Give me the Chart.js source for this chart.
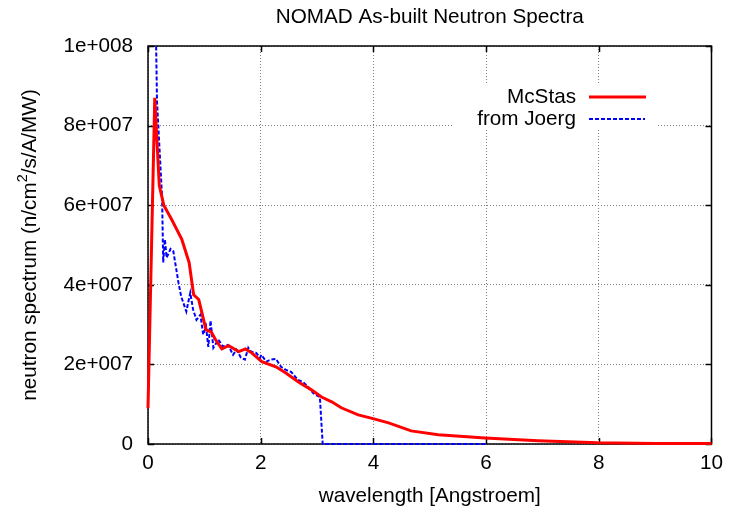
<!DOCTYPE html>
<html>
<head>
<meta charset="utf-8">
<title>NOMAD As-built Neutron Spectra</title>
<script src="https://cdn.jsdelivr.net/npm/chart.js@4"></script>
<style>
  html, body { margin: 0; padding: 0; background: #fff; }
</style>
</head>
<body>
<canvas id="chart" width="730" height="514"></canvas>
<script>
// McStas simulation (red, solid)
const mcX = [0.0, 0.12, 0.2, 0.28, 0.42, 0.6, 0.73, 0.81, 0.9, 1.03, 1.12, 1.2, 1.31, 1.43, 1.61, 1.73, 1.84, 2.02, 2.27, 2.44,
  2.67, 2.9, 3.08, 3.26, 3.43, 3.73, 3.96, 4.27, 4.67, 5.15, 5.98, 6.92, 7.98, 9.0, 10.0];
const mcY = [0.9e7, 8.7e7, 6.5e7, 6.0e7, 5.64e7, 5.14e7, 4.56e7, 3.75e7, 3.63e7, 2.87e7, 2.82e7, 2.62e7, 2.39e7, 2.47e7, 2.32e7, 2.39e7, 2.29e7, 2.07e7, 1.94e7, 1.79e7,
  1.56e7, 1.36e7, 1.18e7, 1.06e7, 0.91e7, 0.73e7, 0.65e7, 0.53e7, 0.33e7, 0.23e7, 0.15e7, 0.08e7, 0.03e7, 0.015e7, 0.01e7];

// from Joerg (blue, dashed)
const jgX = [0.11, 0.16, 0.25, 0.27, 0.30, 0.33, 0.40, 0.45, 0.54, 0.59, 0.68, 0.75, 0.80, 0.86, 0.93, 0.98, 1.03, 1.07, 1.11, 1.16,
  1.25, 1.33, 1.42, 1.51, 1.57, 1.65, 1.72, 1.78, 1.83, 1.92, 1.99, 2.01, 2.10, 2.18, 2.27, 2.36, 2.45, 2.54, 2.66, 2.75,
  2.84, 2.93, 2.98, 3.05, 3.10, 4.0, 5.0, 6.0];
const jgY = [13e7, 8.6e7, 6.2e7, 4.56e7, 5.14e7, 4.68e7, 4.9e7, 4.84e7, 4.06e7, 3.7e7, 3.33e7, 3.8e7, 3.38e7, 3.12e7, 3.25e7, 2.75e7, 2.95e7, 2.44e7, 3.1e7, 2.42e7,
  2.62e7, 2.45e7, 2.49e7, 2.24e7, 2.37e7, 2.17e7, 2.12e7, 2.42e7, 2.32e7, 2.29e7, 2.17e7, 2.24e7, 2.07e7, 2.12e7, 2.14e7, 1.94e7, 1.86e7, 1.81e7, 1.61e7, 1.56e7,
  1.44e7, 1.28e7, 1.23e7, 1.18e7, 0, 0, 0, 0];

const xTicks = [0, 2, 4, 6, 8, 10];
const xTickLabels = ['0', '2', '4', '6', '8', '10'];
const yTicks = [0, 2e7, 4e7, 6e7, 8e7, 1e8];
const yTickLabels = ['0', '2e+007', '4e+007', '6e+007', '8e+007', '1e+008'];

const FONT = 'Liberation Sans, Arial, sans-serif';
const FS = 20.7;

// gnuplot-ish frame: white key box, border, inward ticks, title, labels, key
const gnuFrame = {
  id: 'gnuFrame',
  beforeDatasetsDraw(chart) {
    const ctx = chart.ctx;
    const a = chart.chartArea;
    const xs = chart.scales.x, ys = chart.scales.y;
    ctx.save();
    // key box covers the grid
    ctx.fillStyle = '#fff';
    ctx.fillRect(453, 85, 205, 45);

    // border
    ctx.strokeStyle = '#000';
    ctx.lineWidth = 1.5;
    ctx.strokeRect(a.left, a.top, a.right - a.left, a.bottom - a.top);

    // ticks (inward, mirrored)
    ctx.beginPath();
    xTicks.forEach(v => {
      const px = Math.round(xs.getPixelForValue(v)) + 0.5;
      ctx.moveTo(px, a.bottom); ctx.lineTo(px, a.bottom - 6);
      ctx.moveTo(px, a.top); ctx.lineTo(px, a.top + 6);
    });
    yTicks.forEach(v => {
      const py = Math.round(ys.getPixelForValue(v)) + 0.5;
      ctx.moveTo(a.left, py); ctx.lineTo(a.left + 6, py);
      ctx.moveTo(a.right, py); ctx.lineTo(a.right - 6, py);
    });
    ctx.stroke();
    ctx.restore();
  },
  afterDatasetsDraw(chart) {
    const ctx = chart.ctx;
    const a = chart.chartArea;
    ctx.save();
    ctx.fillStyle = '#000';
    ctx.font = FS + 'px ' + FONT;
    ctx.textBaseline = 'middle';

    // title
    const cx = (a.left + a.right) / 2;
    ctx.textAlign = 'center';
    ctx.fillText('NOMAD As-built Neutron Spectra', cx, 17);

    // x label
    ctx.fillText('wavelength [Angstroem]', cx, 496);

    // y label with superscript
    const p1 = 'neutron spectrum (n/cm', sup = '2', p2 = '/s/A/MW)';
    const w1 = ctx.measureText(p1).width, w2 = ctx.measureText(p2).width;
    ctx.font = (FS * 0.7) + 'px ' + FONT;
    const ws = ctx.measureText(sup).width;
    ctx.save();
    ctx.translate(30, (a.top + a.bottom) / 2);
    ctx.rotate(-Math.PI / 2);
    ctx.textAlign = 'left';
    let sx = -(w1 + ws + w2) / 2;
    ctx.font = FS + 'px ' + FONT;
    ctx.fillText(p1, sx, 0);
    sx += w1;
    ctx.font = (FS * 0.7) + 'px ' + FONT;
    ctx.fillText(sup, sx, -7);
    sx += ws;
    ctx.font = FS + 'px ' + FONT;
    ctx.fillText(p2, sx, 0);
    ctx.restore();

    // key
    ctx.font = FS + 'px ' + FONT;
    ctx.textAlign = 'right';
    ctx.fillText('McStas', 576, 97);
    ctx.fillText('from Joerg', 576, 119);
    ctx.strokeStyle = '#ff0000';
    ctx.lineWidth = 3;
    ctx.beginPath(); ctx.moveTo(589, 97); ctx.lineTo(646, 97); ctx.stroke();
    ctx.strokeStyle = '#0000ff';
    ctx.lineWidth = 2;
    ctx.setLineDash([4, 2]);
    ctx.beginPath(); ctx.moveTo(589, 119); ctx.lineTo(645, 119); ctx.stroke();
    ctx.restore();
  }
};

const chart = new Chart(document.getElementById('chart').getContext('2d'), {
  type: 'line',
  data: {
    datasets: [{
      label: 'McStas',
      data: mcX.map((x, i) => ({x: x, y: mcY[i]})),
      borderColor: '#ff0000',
      borderWidth: 3,
      pointRadius: 0,
      tension: 0,
      clip: {left: 2, top: 0, right: 2, bottom: 3}
    }, {
      label: 'from Joerg',
      data: jgX.map((x, i) => ({x: x, y: jgY[i]})),
      borderColor: '#0000ff',
      borderWidth: 2,
      borderDash: [4, 2],
      pointRadius: 0,
      tension: 0,
      clip: {left: 2, top: 0, right: 2, bottom: 3}
    }]
  },
  options: {
    responsive: false,
    animation: false,
    layout: {padding: {top: 46, right: 15, left: 0, bottom: 0}},
    plugins: {
      legend: {display: false},
      tooltip: {enabled: false}
    },
    scales: {
      x: {
        type: 'linear',
        min: 0, max: 10,
        afterBuildTicks: (s) => { s.ticks = xTicks.map(v => ({value: v})); },
        afterFit: (s) => { s.height = 70; },
        ticks: {
          callback: (v) => xTickLabels[xTicks.indexOf(v)],
          font: {family: FONT, size: FS},
          color: '#000',
          padding: 7,
          maxRotation: 0,
          autoSkip: false
        },
        grid: {color: '#808080', lineWidth: 1, drawTicks: false},
        border: {display: false, dash: [1, 2]}
      },
      y: {
        min: 0, max: 1e8,
        afterBuildTicks: (s) => { s.ticks = yTicks.map(v => ({value: v})); },
        afterFit: (s) => { s.width = 148; },
        ticks: {
          callback: (v) => yTickLabels[yTicks.indexOf(v)],
          font: {family: FONT, size: FS},
          color: '#000',
          padding: 15,
          autoSkip: false
        },
        grid: {color: '#808080', lineWidth: 1, drawTicks: false},
        border: {display: false, dash: [1, 2]}
      }
    }
  },
  plugins: [gnuFrame]
});
</script>
</body>
</html>
